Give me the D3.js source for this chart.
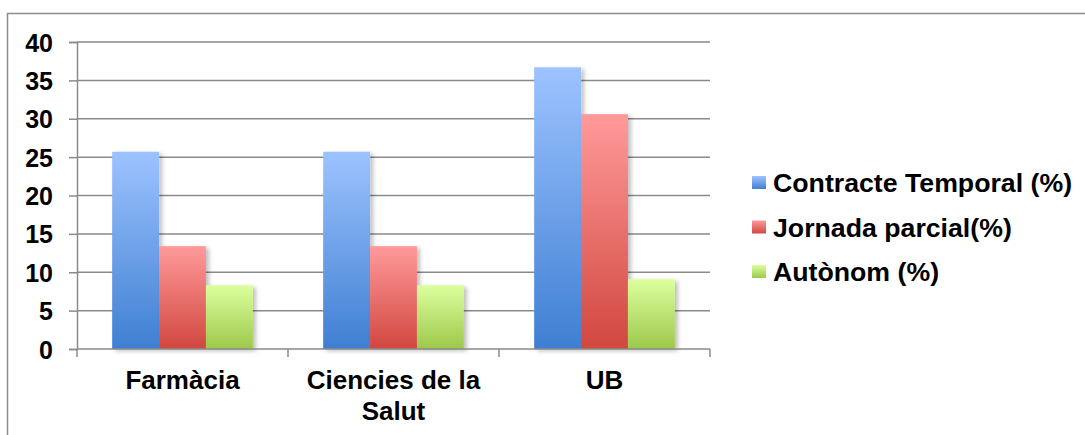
<!DOCTYPE html>
<html>
<head>
<meta charset="utf-8">
<script src="https://cdn.jsdelivr.net/npm/d3@7"></script>
<style>
  body { margin: 0; background: #fff; }
  svg { display: block; font-family: "Liberation Sans", Arial, sans-serif; }
</style>
</head>
<body>
<script>
// data
var categories = ["Farmàcia", "Ciencies de la Salut", "UB"];
var catLines = [["Farmàcia"], ["Ciencies de la", "Salut"], ["UB"]];
var seriesNames = ["Contracte Temporal (%)", "Jornada parcial(%)", "Autònom (%)"];
var temporal = [25.7, 25.7, 36.7];
var parcial = [13.4, 13.4, 30.6];
var autonom = [8.3, 8.3, 9.1];
var yTicks = [0, 5, 10, 15, 20, 25, 30, 35, 40];

var series = [temporal, parcial, autonom];
var grads = [
  {id: "gBlue", top: "#9dc3ff", bottom: "#3f7fd2"},
  {id: "gRed", top: "#ff9a9a", bottom: "#d1473f"},
  {id: "gGreen", top: "#dcff9e", bottom: "#9dc84a"}
];

const W = 1085, H = 435;
const plot = {left: 77, right: 710, top: 42, bottom: 349};

var svg = d3.select("body").append("svg")
  .attr("width", W).attr("height", H);

var defs = svg.append("defs");
grads.forEach(function(g) {
  var lg = defs.append("linearGradient").attr("id", g.id)
    .attr("x1", 0).attr("y1", 0).attr("x2", 0).attr("y2", 1);
  lg.append("stop").attr("offset", "0%").attr("stop-color", g.top);
  lg.append("stop").attr("offset", "100%").attr("stop-color", g.bottom);
});
var shadow = defs.append("filter").attr("id", "shadow")
  .attr("x", "-20%").attr("y", "-20%").attr("width", "150%").attr("height", "150%");
shadow.append("feDropShadow").attr("dx", 3).attr("dy", 2)
  .attr("stdDeviation", 2).attr("flood-color", "#000").attr("flood-opacity", 0.25);

// outer border (runs off the right and bottom edges)
svg.append("rect")
  .attr("x", 7.5).attr("y", 13.5)
  .attr("width", 1100).attr("height", 440)
  .attr("fill", "none").attr("stroke", "#8c8c8c").attr("stroke-width", 1.5);

var x0 = d3.scaleBand().domain(categories)
  .range([plot.left, plot.right]).paddingInner(0).paddingOuter(0);
var bw = x0.bandwidth() / 4.5;
var x1 = d3.scaleBand().domain([0, 1, 2])
  .range([0, bw * 3]);

var y = d3.scaleLinear().domain([0, 40]).range([plot.bottom, plot.top]);

// gridlines
svg.append("g").selectAll("line")
  .data(yTicks.filter(function(d) { return d > 0; })).enter()
  .append("line")
  .attr("x1", plot.left).attr("x2", plot.right)
  .attr("y1", function(d) { return y(d); })
  .attr("y2", function(d) { return y(d); })
  .attr("stroke", "#8a8a8a").attr("stroke-width", 1.5);

// y axis
var yAxis = svg.append("g")
  .attr("transform", "translate(" + plot.left + ",0)")
  .call(d3.axisLeft(y).tickValues(yTicks).tickSize(8).tickPadding(16));
yAxis.attr("font-family", null);
yAxis.select(".domain").attr("stroke", "#8a8a8a").attr("stroke-width", 1.5);
yAxis.selectAll(".tick line").attr("stroke", "#8a8a8a").attr("stroke-width", 1.5);
yAxis.selectAll(".tick text")
  .attr("fill", "#000").style("font-size", "25px").style("font-weight", "bold")
  .attr("dy", "0.36em");

// bars
var groups = svg.append("g").selectAll("g")
  .data(categories).enter()
  .append("g")
  .attr("transform", function(d) { return "translate(" + (x0(d) + bw * 0.75) + ",0)"; });

groups.selectAll("rect")
  .data(function(d, i) { return series.map(function(s, k) { return {k: k, v: s[i]}; }); })
  .enter().append("rect")
  .attr("x", function(d) { return x1(d.k); })
  .attr("width", x1.bandwidth())
  .attr("y", function(d) { return y(d.v); })
  .attr("height", function(d) { return y(0) - y(d.v); })
  .attr("fill", function(d) { return "url(#" + grads[d.k].id + ")"; })
  .attr("filter", "url(#shadow)");

// x axis line and ticks
var xAxis = svg.append("g");
xAxis.append("line")
  .attr("x1", plot.left).attr("x2", plot.right)
  .attr("y1", plot.bottom).attr("y2", plot.bottom)
  .attr("stroke", "#8a8a8a").attr("stroke-width", 1.5);
var bounds = categories.map(function(c) { return x0(c); }).concat([plot.right]);
xAxis.selectAll(".xt").data(bounds).enter()
  .append("line").attr("class", "xt")
  .attr("x1", function(d) { return d; }).attr("x2", function(d) { return d; })
  .attr("y1", plot.bottom).attr("y2", plot.bottom + 8)
  .attr("stroke", "#8a8a8a").attr("stroke-width", 1.5);

xAxis.selectAll(".xl").data(categories).enter()
  .append("text").attr("class", "xl")
  .attr("text-anchor", "middle")
  .style("font-size", "26px").style("font-weight", "bold")
  .each(function(d, i) {
    var t = d3.select(this);
    catLines[i].forEach(function(line, j) {
      t.append("tspan")
        .attr("x", x0(d) + x0.bandwidth() / 2)
        .attr("y", 389 + j * 31)
        .text(line);
    });
  });

// legend
var legend = svg.append("g").selectAll("g")
  .data(seriesNames).enter()
  .append("g")
  .attr("transform", function(d, i) { return "translate(752," + (182.5 + i * 44.5) + ")"; });
legend.append("rect")
  .attr("x", 0).attr("y", -6.5).attr("width", 14).attr("height", 13)
  .attr("fill", function(d, i) { return "url(#" + grads[i].id + ")"; });
legend.append("text")
  .attr("x", 21).attr("dy", "0.36em")
  .style("font-size", "26.7px").style("font-weight", "bold")
  .text(function(d) { return d; });
</script>
</body>
</html>
